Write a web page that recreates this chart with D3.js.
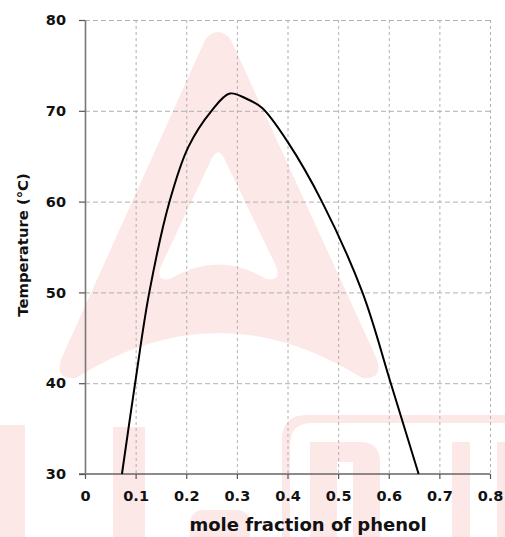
<!DOCTYPE html>
<html>
<head>
<meta charset="utf-8">
<script src="https://cdn.jsdelivr.net/npm/d3@7"></script>
<style>
  body { margin: 0; background: #fff; }
  svg text { font-family: "DejaVu Sans", Verdana, sans-serif; font-weight: bold; fill: #111; }
</style>
</head>
<body>
<div id="chart"></div>
<script>
// phenol-water miscibility curve
const molFraction = [0.073, 0.099, 0.127, 0.167, 0.204, 0.25, 0.286, 0.32, 0.35, 0.40, 0.468, 0.548, 0.604, 0.659];
const temperature = [30, 40, 50, 60, 66, 70, 71.9, 71.3, 70.3, 66.6, 60, 50, 40, 30];

const xTicks = [0, 0.1, 0.2, 0.3, 0.4, 0.5, 0.6, 0.7, 0.8];
const yTicks = [30, 40, 50, 60, 70, 80];
const xTitle = 'mole fraction of phenol';
const yTitle = 'Temperature (\u00B0C)';

const width = 505;
const height = 537;
const margin = { top: 20, right: 15, bottom: 63, left: 85 };

const svg = d3.select('#chart').append('svg')
  .attr('width', width)
  .attr('height', height);

/* ---- watermark in the background ---- */
const wm = svg.append('g').attr('fill', '#fde8e8');

wm.append('path')
  .attr('fill-rule', 'evenodd')
  .attr('d', 'M205,40 Q218,24 231,40 L375,355 Q386,380 362,378 Q218,288 76,378 Q52,380 63,355 Z '
    + 'M212,158 Q218,147 224,158 L276,266 Q282,282 266,279 Q218,250 170,279 Q155,282 161,266 Z');

wm.append('rect').attr('x', 0).attr('y', 425).attr('width', 25).attr('height', 112);
wm.append('rect').attr('x', 113).attr('y', 427).attr('width', 32).attr('height', 110);
wm.append('path').attr('d', 'M190,537 L190,525 Q190,510 205,510 L235,510 Q250,510 250,525 L250,537 Z');
wm.append('path').attr('d', 'M282,537 L282,440 Q282,415 307,415 L505,415 L505,423 L312,423 Q290,423 290,445 L290,537 Z');
wm.append('path').attr('d', 'M310,537 L310,442 L360,442 Q380,442 380,462 L380,537 L353,537 L353,462 L337,462 L337,537 Z');
wm.append('rect').attr('x', 452).attr('y', 442).attr('width', 18).attr('height', 95);
wm.append('rect').attr('x', 497).attr('y', 442).attr('width', 8).attr('height', 95);

/* ---- scales ---- */
const x = d3.scaleLinear().domain([0, 0.8]).range([margin.left, 490]);
const y = d3.scaleLinear().domain([30, 80]).range([474, margin.top]);

// grid
const grid = svg.append('g').attr('stroke', '#b0b0b0').attr('stroke-width', 1).attr('fill', 'none');
grid.selectAll('line.gx')
  .data(xTicks.slice(1))
  .enter()
  .append('line')
  .attr('x1', (d) => x(d) + 0.5)
  .attr('x2', (d) => x(d) + 0.5)
  .attr('y1', y(80))
  .attr('y2', y(30))
  .attr('stroke-dasharray', '3,3');
grid.selectAll('line.gy')
  .data(yTicks.slice(1))
  .enter()
  .append('line')
  .attr('x1', x(0))
  .attr('x2', x(0.8))
  .attr('y1', (d) => y(d) + 0.5)
  .attr('y2', (d) => y(d) + 0.5)
  .attr('stroke-dasharray', '5,3');

/* ---- axes ---- */
const xAxis = d3.axisBottom(x)
  .tickValues(xTicks)
  .tickSize(5)
  .tickSizeOuter(0)
  .tickFormat((d) => (d === 0 ? '0' : d3.format('.1f')(d)));

const yAxis = d3.axisLeft(y)
  .tickValues(yTicks)
  .tickSize(6)
  .tickSizeOuter(0)
  .tickFormat(d3.format('d'));

const gx = svg.append('g')
  .attr('transform', `translate(0,${y(30)})`)
  .call(xAxis);
gx.select('.domain').attr('stroke', '#666').attr('stroke-width', 1.6).attr('d', `M${x(0) - 6},0H${x(0.8)}`);
gx.selectAll('.tick line').attr('stroke', '#555').attr('stroke-width', 1.2);
gx.selectAll('.tick text')
  .attr('y', 17)
  .attr('font-size', 14.5)
  .attr('font-family', '"DejaVu Sans", sans-serif')
  .attr('font-weight', 'bold')
  .attr('fill', '#111');

const gy = svg.append('g')
  .attr('transform', `translate(${x(0)},0)`)
  .call(yAxis);
gy.select('.domain').attr('stroke', '#777').attr('stroke-width', 1.6);
gy.selectAll('.tick line').attr('stroke', '#555').attr('stroke-width', 1.2);
gy.selectAll('.tick text')
  .attr('x', -19)
  .attr('font-size', 14.5)
  .attr('font-family', '"DejaVu Sans", sans-serif')
  .attr('font-weight', 'bold')
  .attr('fill', '#111');

// axis titles
svg.append('text')
  .attr('x', 308)
  .attr('y', 531)
  .attr('text-anchor', 'middle')
  .attr('font-size', 18)
  .text(xTitle);

svg.append('text')
  .attr('transform', `translate(28,${(y(30) + y(80)) / 2 - 2}) rotate(-90)`)
  .attr('text-anchor', 'middle')
  .attr('font-size', 14.8)
  .text(yTitle);

/* ---- curve ---- */
const pts = molFraction.map((m, i) => [m, temperature[i]]);
const line = d3.line()
  .x((d) => x(d[0]))
  .y((d) => y(d[1]))
  .curve(d3.curveCatmullRom.alpha(0.5));

svg.append('path')
  .datum(pts)
  .attr('fill', 'none')
  .attr('stroke', '#000')
  .attr('stroke-width', 2)
  .attr('d', line);
</script>
</body>
</html>
